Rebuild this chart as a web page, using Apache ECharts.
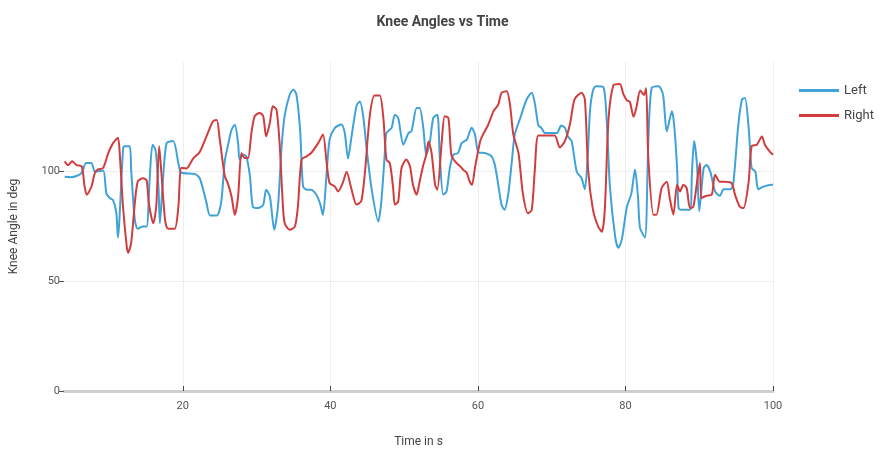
<!DOCTYPE html>
<html>
<head>
<meta charset="utf-8">
<script src="https://cdn.jsdelivr.net/npm/echarts@6/dist/echarts.min.js"></script>
<style>
html,body{margin:0;padding:0;background:#fff;}
#chart{width:885px;height:457px;}
</style>
</head>
<body>
<div id="chart"></div>
<script>
// Left knee angle (deg) vs time (s)
var leftTime = [4.0,4.8,5.6,6.3,6.9,7.6,8.1,9.2,9.65,10.1,10.55,11.0,11.2,11.9,12.1,12.8,13.0,13.5,13.9,14.6,15.1,15.5,15.9,16.3,16.7,16.9,17.25,17.8,18.7,19.4,19.8,21.6,22.3,23.2,23.7,24.6,25.2,25.7,26.1,26.6,27.05,27.5,27.7,28.2,28.6,29.1,29.5,30.2,30.9,31.3,31.8,32.4,32.9,33.4,33.8,34.5,35.0,35.4,35.9,36.3,36.8,37.4,38.1,38.6,39.0,39.5,39.9,40.6,41.5,41.96,42.4,42.87,43.55,44.0,44.45,44.9,45.6,46.5,46.9,47.4,47.6,48.3,48.75,49.2,49.9,50.6,51.0,51.7,52.1,52.6,53.0,53.5,53.95,54.5,54.85,55.3,55.75,56.2,56.66,57.3,57.8,58.5,59.15,59.6,60.05,60.95,61.85,62.3,62.76,63.2,63.6,64.1,64.6,65.0,65.7,66.6,67.3,67.7,68.2,68.6,69.1,70.0,70.7,71.3,71.8,72.2,72.7,73.4,74.05,74.5,74.9,75.2,75.6,76.0,77.0,77.45,77.9,78.6,79.03,79.5,80.2,80.8,81.3,81.7,81.97,82.65,83.1,83.55,84.5,85.1,85.6,86.3,86.6,87.0,87.2,87.6,88.75,89.0,89.3,89.7,90.0,90.6,91.0,91.5,92.15,92.8,93.3,94.2,94.6,95.3,95.8,96.2,96.7,97.1,97.6,98.0,98.7,99.8,100];
var leftAngle = [97.7,97.5,98,99.5,104,104,100,100.5,90,88,87,81,70,110,111.6,111.6,101,78,74,75,75,96,112.3,110,93,76.5,93,113,114,104,99.5,99,97,86,80,80,86,105,111.6,119,121.4,113,105.5,107.7,107,98,84,83.4,84.9,91.8,88.8,73.5,84,111.6,125.3,135.2,137.4,135.2,119.2,93.3,91.8,91.8,89.5,85.6,80.3,99.4,114.6,119.9,121.5,117.5,106,116,130,132,125.5,111,92,77.3,86,109,117.5,120,126,124.5,112.3,117.6,118.4,129,129,120,107.7,113.8,124.5,126,106,89.5,91,101.7,107.7,108.5,113,114.6,120,117,109,108.5,107,103,94,84.9,82.6,89.5,104.7,117,124,132.9,136,131.5,121,120,117.6,117.6,117.6,121,120,116,114,100,97,92,108,128,137,139,138.6,123.7,93,70.5,65.3,69,84,90,101,88.5,74.4,70,114,138.2,139,135,118.4,127.5,121.4,101.7,83.4,82.6,82.6,98.6,114,103,82,101.7,103,100,91,89,92,92,94,121.4,133,133.6,120,101.7,100,92,93.2,94,94];

// Right knee angle (deg) vs time (s)
var rightTime = [4.0,4.45,5.0,5.6,6.3,6.7,7.0,7.6,8.1,8.5,9.2,9.9,10.55,11.2,11.45,11.9,12.4,12.6,13.0,13.5,13.9,14.6,15.1,15.4,16.0,16.4,16.8,17.1,17.6,18.0,18.9,19.4,19.8,20.5,21.4,22.3,23.2,24.1,24.6,25.0,25.69,26.1,26.6,27.05,27.5,27.95,28.4,28.85,29.3,29.75,30.4,30.9,31.3,31.8,32.2,32.7,33.15,33.5,33.8,34.5,35.2,35.6,36.1,36.8,37.4,38.35,39.0,39.5,39.9,40.6,41.06,41.7,42.2,42.87,43.55,44.2,44.7,45.35,46.0,46.7,47.2,47.6,48.06,48.5,48.75,49.2,49.65,50.3,50.8,51.2,51.7,52.1,52.6,53.0,53.3,53.7,54.2,54.5,55.1,55.5,56.0,56.4,56.9,57.6,58.0,58.5,58.9,59.2,59.6,60.3,60.7,61.4,62.1,62.76,63.2,63.9,64.35,64.8,65.5,66.1,66.8,67.3,67.7,68.2,69.3,70.4,71.1,71.8,72.5,73.1,74.05,74.5,74.96,75.6,76.3,76.8,77.2,77.7,78.35,79.25,79.7,80.2,80.6,81.1,81.5,82.0,82.5,82.8,83.1,83.8,84.2,84.9,85.6,86.0,86.5,87.0,87.4,87.85,88.3,88.75,89.2,89.65,90.1,90.3,91.0,91.7,92.15,92.8,93.5,94.4,94.85,95.5,96.0,96.7,97.1,97.8,98.5,98.9,99.6,100];
var rightAngle = [104.7,103,104.7,103,102.4,93,89.5,93,99.5,101,101.7,108.5,113,115.5,108.5,84,66,63,67.5,85.6,95.5,97,96,85.6,76.5,84,111.6,99.5,78,74,74,84,101.7,101.5,106,109,116,123,123.5,115,98,94.8,88.8,80.3,88.8,108.5,106.2,106.2,117.6,125.3,126.8,125.3,116.1,122.2,129.8,128.3,111.6,88.8,76.6,73.5,75,84,105.5,107,108.5,113,116.9,104,94.8,93.3,91,95,100,92,85,86.6,100,125.5,134.7,134.7,124,105.5,104,93,85,86.4,101.7,105.5,102.4,94,89.5,95.4,103,107.7,113.8,109,94,91.8,113.8,125.3,124.5,107.7,104.7,102.4,100.9,99.4,95.4,94,101.7,113.8,117,121.4,127.5,130.6,135.9,136.7,130.6,117,108.5,90,81,82.6,100,116.5,116.5,116.5,111,114,122,133,136,133,100,82.6,75,72.6,82.6,123.7,139.3,140,135.5,132.5,131.8,125,129.5,137,135,138,106,80.4,80.4,92.5,95.4,88,80.4,94,91,94,92.5,83.4,84,94,104,88,89,89.5,98.6,95.4,95.4,94.7,89.5,84,83.4,95.4,111.6,112.3,116,112.3,109,107.7];

var seriesNames = ['Left', 'Right'];
var xTicks = [20, 40, 60, 80, 100];
var yTicks = [0, 50, 100];

function pairs(t, v) {
  var out = [];
  for (var i = 0; i < t.length; i++) out.push([t[i], v[i]]);
  return out;
}

var chart = echarts.init(document.getElementById('chart'), null, {renderer: 'canvas'});
var fontFam = 'Roboto, "Open Sans", "DejaVu Sans", sans-serif';
chart.setOption({
  animation: false,
  backgroundColor: '#ffffff',
  title: {
    text: 'Knee Angles vs Time',
    left: 'center',
    top: 10,
    textStyle: {fontFamily: fontFam, fontSize: 14, fontWeight: 'bold', color: '#444'}
  },
  legend: {
    orient: 'vertical',
    left: 794,
    top: 79,
    itemGap: 12,
    itemWidth: 40,
    itemHeight: 3,
    icon: 'rect',
    textStyle: {fontFamily: fontFam, fontSize: 13, color: '#444'},
    data: seriesNames
  },
  grid: {left: 64, right: 112, top: 62, bottom: 66, containLabel: false},
  xAxis: {
    type: 'value',
    min: 3.9,
    max: 100,
    splitNumber: 5,
    name: 'Time in s',
    nameLocation: 'middle',
    nameGap: 45,
    nameTextStyle: {fontFamily: fontFam, fontSize: 12, color: '#444'},
    axisLine: {show: true, lineStyle: {color: '#cfcfcf', width: 3}},
    axisTick: {show: true, inside: true, length: 5, lineStyle: {color: '#444', width: 1}},
    axisLabel: {
      showMinLabel: false,
      margin: 10,
      fontFamily: fontFam, fontSize: 11, color: '#555',
      formatter: function (v) { return xTicks.indexOf(v) >= 0 ? String(v) : ''; }
    },
    splitLine: {show: true, showMinLine: false, lineStyle: {color: '#eeeeee', width: 1}}
  },
  yAxis: {
    type: 'value',
    min: 0,
    max: 150,
    interval: 50,
    name: 'Knee Angle in deg',
    nameLocation: 'middle',
    nameGap: 44,
    nameTextStyle: {fontFamily: fontFam, fontSize: 12, color: '#444'},
    axisLine: {show: false},
    axisTick: {show: true, length: 5, lineStyle: {color: '#555', width: 1}},
    axisLabel: {
      showMaxLabel: false,
      margin: 4,
      fontFamily: fontFam, fontSize: 11, color: '#555',
      formatter: function (v) { return yTicks.indexOf(v) >= 0 ? String(v) : ''; }
    },
    splitLine: {show: true, showMinLine: false, showMaxLine: false, lineStyle: {color: '#eeeeee', width: 1}}
  },
  series: [
    {
      name: seriesNames[0], type: 'line', showSymbol: false, smooth: 0.25,
      data: pairs(leftTime, leftAngle),
      lineStyle: {color: '#3fa2d9', width: 2},
      itemStyle: {color: '#3fa2d9'}
    },
    {
      name: seriesNames[1], type: 'line', showSymbol: false, smooth: 0.25,
      data: pairs(rightTime, rightAngle),
      lineStyle: {color: '#d23c3c', width: 2},
      itemStyle: {color: '#d23c3c'}
    }
  ]
});
</script>
</body>
</html>
